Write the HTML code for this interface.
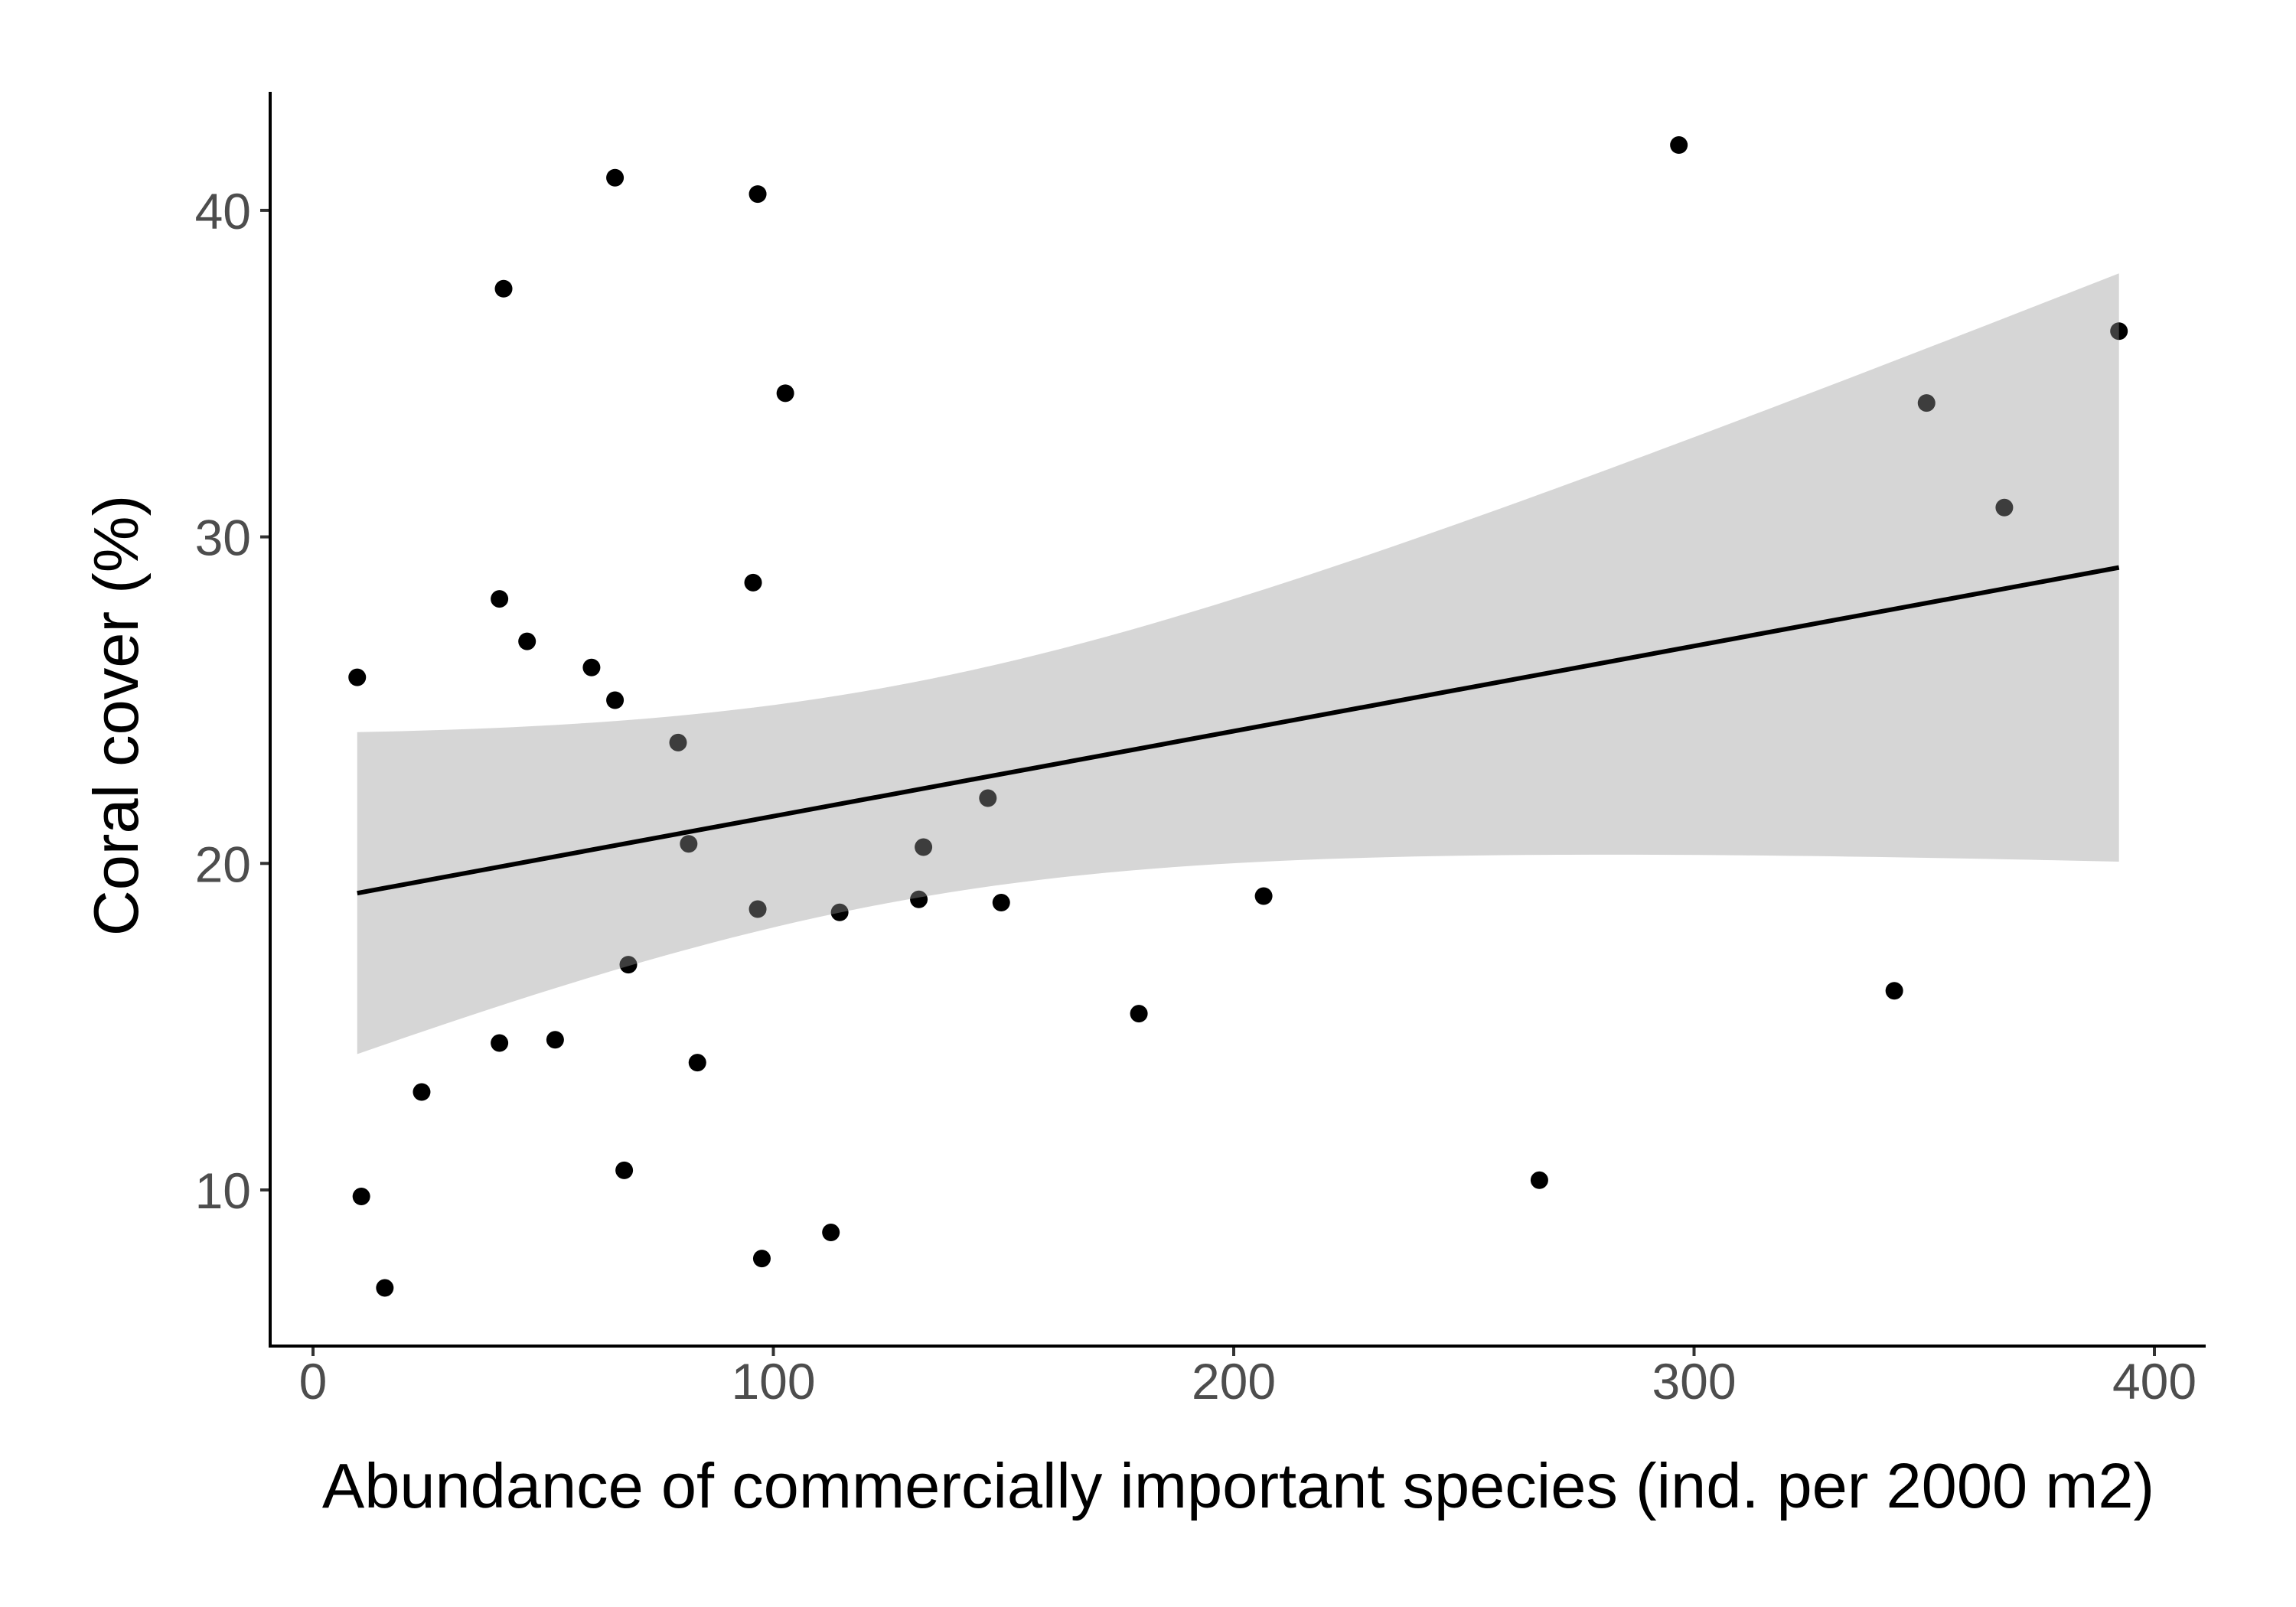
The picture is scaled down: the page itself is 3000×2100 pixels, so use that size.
<!DOCTYPE html>
<html><head><meta charset="utf-8"><style>body{margin:0;background:#fff}svg{display:block}text{font-family:"Liberation Sans",Arial,sans-serif}</style></head>
<body>
<svg id="chart" width="3000" height="2100" xmlns="http://www.w3.org/2000/svg">
<rect width="3000" height="2100" fill="#fff"/>
<g id="pts"></g>
<g id="band"></g>
<g id="axes"></g>
<text x="1618" y="1970" font-size="83" text-anchor="middle" fill="#000">Abundance of commercially important species (ind. per 2000 m2)</text>
<text transform="translate(180,935) rotate(-90)" font-size="83" text-anchor="middle" fill="#000">Coral cover (%)</text>
</svg>
<script>
const xVals=[9.6,10.5,15.6,23.6,40.5,40.5,41.4,46.5,52.6,60.5,65.6,65.6,67.6,68.5,79.3,81.6,83.5,95.6,96.6,96.6,97.5,102.6,112.5,114.4,131.6,132.6,146.6,149.5,179.4,206.5,266.4,296.7,343.5,350.5,367.4,392.3];
const yVals=[25.7,9.8,7.0,13.0,28.1,14.5,37.6,26.8,14.6,26.0,41.0,25.0,10.6,16.9,23.7,20.6,13.9,28.6,40.5,18.6,7.9,34.4,8.7,18.5,18.9,20.5,22.0,18.8,15.4,19.0,10.3,42.0,16.1,34.1,30.9,36.3];
const xTicks=[0,100,200,300,400];
const yTicks=[10,20,30,40];
const NS="http://www.w3.org/2000/svg";
const sx=v=>409+v*6.015;
const sy=v=>1981.7-v*42.67;
function mk(t,a,p){const e=document.createElementNS(NS,t);for(const k in a)e.setAttribute(k,a[k]);p.appendChild(e);return e;}
const pts=document.getElementById('pts');
xVals.forEach((x,i)=>{const c=mk('circle',{cx:sx(x),cy:sy(yVals[i]),r:11.5,fill:'#000'},pts);

});
const n=xVals.length,mx=xVals.reduce((a,b)=>a+b)/n,my=yVals.reduce((a,b)=>a+b)/n;
let sxx=0,sxy=0;xVals.forEach((x,i)=>{sxx+=(x-mx)**2;sxy+=(x-mx)*(yVals[i]-my);});
const b=sxy/sxx,a=my-b*mx;let sse=0;xVals.forEach((x,i)=>{sse+=(yVals[i]-a-b*x)**2;});
const s=Math.sqrt(sse/(n-2)),t=2.032;
const x0=Math.min(...xVals),x1=Math.max(...xVals);
let up=[],lo=[];
for(let k=0;k<=80;k++){const x=x0+(x1-x0)*k/80,f=a+b*x,se=s*Math.sqrt(1/n+(x-mx)**2/sxx);
up.push(sx(x)+','+sy(f+t*se));lo.unshift(sx(x)+','+sy(f-t*se));}
const band=document.getElementById('band');
const pg=mk('polygon',{points:up.concat(lo).join(' '),fill:'#999999','fill-opacity':0.4},band);


const ln=mk('line',{x1:sx(x0),y1:sy(a+b*x0),x2:sx(x1),y2:sy(a+b*x1),stroke:'#000','stroke-width':6},band);


const ax=document.getElementById('axes');
const xl=mk('line',{x1:351,y1:1759,x2:2882,y2:1759,stroke:'#000','stroke-width':4},ax);


const yl=mk('line',{x1:353,y1:120,x2:353,y2:1761,stroke:'#000','stroke-width':4},ax);


xTicks.forEach(v=>{const m=mk('line',{x1:sx(v),y1:1761,x2:sx(v),y2:1772,stroke:'#333','stroke-width':4},ax);


const tx=mk('text',{x:sx(v),y:1828,'font-size':66,'text-anchor':'middle',fill:'#4d4d4d'},ax);tx.textContent=v;

});
yTicks.forEach(v=>{const m=mk('line',{x1:340,y1:sy(v),x2:351,y2:sy(v),stroke:'#333','stroke-width':4},ax);


const tx=mk('text',{x:328,y:sy(v)+24,'font-size':66,'text-anchor':'end',fill:'#4d4d4d'},ax);tx.textContent=v;

});
</script>
</body></html>
